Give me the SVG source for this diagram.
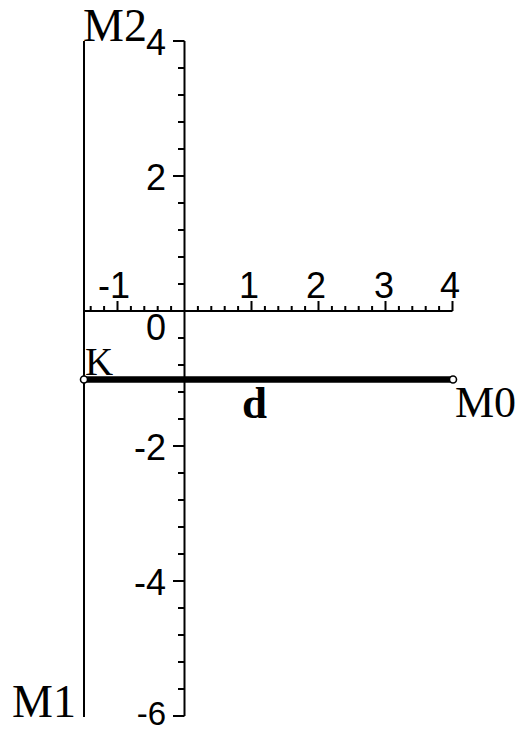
<svg xmlns="http://www.w3.org/2000/svg" width="517" height="733" viewBox="0 0 517 733">
<style>
.ax{stroke:#000;stroke-width:2;fill:none}
.tk{font-family:"Liberation Sans",Arial,sans-serif;font-size:36px;fill:#000}
.lb{font-family:"Liberation Serif","Times New Roman",serif;font-size:46px;fill:#000}
.pt{fill:#fff;stroke:#000;stroke-width:1.6}
</style>
<rect width="517" height="733" fill="#fff"/>
<g id="axes">
<path class="ax" d="M184.5 41V716M84 311H452.5"/>
<path class="ax" d="M173 41H184.5M173 176H184.5M173 446H184.5M173 581H184.5M173 716H184.5
M178 68H184.5M178 95H184.5M178 122H184.5M178 149H184.5M178 203H184.5M178 230H184.5M178 257H184.5M178 284H184.5
M178 338H184.5M178 365H184.5M178 392H184.5M178 419H184.5M178 473H184.5M178 500H184.5M178 527H184.5M178 554H184.5
M178 608H184.5M178 635H184.5M178 662H184.5M178 689H184.5"/>
<path class="ax" d="M117.5 301V311M251.5 301V311M318.5 301V311M385.5 301V311M452.5 301V311
M90.7 306V311M104.1 306V311M130.9 306V311M144.3 306V311M157.7 306V311M171.1 306V311
M197.9 306V311M211.3 306V311M224.7 306V311M238.1 306V311M264.9 306V311M278.3 306V311M291.7 306V311M305.1 306V311
M331.9 306V311M345.3 306V311M358.7 306V311M372.1 306V311M398.9 306V311M412.3 306V311M425.7 306V311M439.1 306V311"/>
<g class="tk" text-anchor="end">
<text x="166" y="55">4</text>
<text x="166" y="190">2</text>
<text x="166" y="340">0</text>
<text x="166" y="460">-2</text>
<text x="166" y="595">-4</text>
<text x="166" y="725" style="font-size:33px">-6</text>
</g>
<g class="tk" text-anchor="middle">
<text x="114" y="298">-1</text>
<text x="249" y="298">1</text>
<text x="316" y="298">2</text>
<text x="384" y="298">3</text>
<text x="450" y="298">4</text>
</g>
</g>
<g id="connectors">
<line id="M1M2" x1="84" y1="41" x2="84" y2="717" stroke="#000" stroke-width="2"/>
<line id="d" x1="84" y1="379.5" x2="453" y2="379.5" stroke="#000" stroke-width="6.5"/>
</g>
<g id="M2"><text class="lb" x="83" y="41">M2</text></g>
<g id="M1"><text class="lb" x="12" y="717">M1</text></g>
<g id="K"><circle class="pt" cx="84" cy="379.5" r="3.5"/><text class="lb" x="85" y="375" style="font-size:39px">K</text></g>
<g id="M0"><circle class="pt" cx="453" cy="379.5" r="3.5"/><text class="lb" x="455" y="417" style="font-size:44px">M0</text></g>
<g id="dlabel"><text class="lb" x="242" y="418" style="font-weight:bold;font-size:45px">d</text></g>
</svg>
